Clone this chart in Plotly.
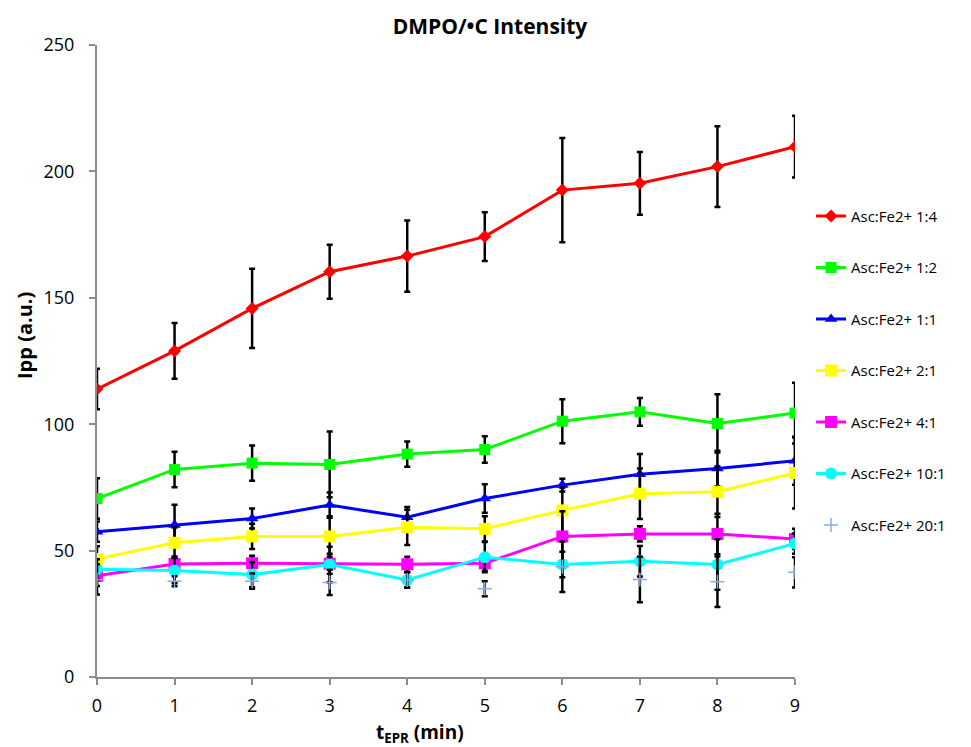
import plotly.graph_objects as go

t_min = [0, 1, 2, 3, 4, 5, 6, 7, 8, 9]

names = ["Asc:Fe2+ 1:4", "Asc:Fe2+ 1:2", "Asc:Fe2+ 1:1", "Asc:Fe2+ 2:1",
         "Asc:Fe2+ 4:1", "Asc:Fe2+ 10:1", "Asc:Fe2+ 20:1"]

r_1_4 = [113.9, 129.0, 145.8, 160.3, 166.5, 174.2, 192.6, 195.3, 201.9, 209.8]
e_1_4 = [8.0, 11.0, 15.7, 10.7, 14.1, 9.6, 20.6, 12.4, 16.0, 12.2]

r_1_2 = [70.6, 82.1, 84.6, 84.1, 88.2, 90.0, 101.2, 104.9, 100.3, 104.4]
e_1_2 = [8.0, 7.0, 7.0, 13.0, 5.0, 5.2, 8.7, 5.5, 11.5, 12.0]

r_1_1 = [57.5, 60.1, 62.7, 68.0, 63.2, 70.6, 75.9, 80.2, 82.5, 85.5]
e_1_1 = [4.0, 8.0, 4.0, 5.0, 4.0, 5.6, 2.5, 8.0, 7.0, 9.5]

r_2_1 = [46.7, 53.1, 55.6, 55.6, 59.2, 58.6, 65.9, 72.5, 73.3, 80.7]
e_2_1 = [5.0, 6.0, 5.0, 8.0, 7.0, 5.0, 9.0, 10.0, 10.0, 14.0]

r_4_1 = [40.0, 44.7, 45.0, 44.8, 44.6, 45.0, 55.6, 56.6, 56.6, 54.6]
e_4_1 = [4.0, 3.0, 3.0, 4.0, 3.0, 3.0, 10.0, 3.0, 8.0, 4.0]

r_10_1 = [42.6, 42.1, 40.5, 44.5, 38.4, 47.4, 44.5, 45.8, 44.5, 52.8]
e_10_1 = [4.0, 5.0, 5.0, 7.0, 3.0, 6.0, 5.0, 6.0, 10.0, 4.0]

r_20_1 = [38.6, 37.9, 37.9, 37.4, 38.4, 34.9, 43.6, 38.6, 37.7, 41.4]
e_20_1 = [6.0, 2.0, 3.0, 5.0, 3.0, 3.0, 10.0, 9.0, 10.0, 6.0]

series = [r_1_4, r_1_2, r_1_1, r_2_1, r_4_1, r_10_1, r_20_1]
errors = [e_1_4, e_1_2, e_1_1, e_2_1, e_4_1, e_10_1, e_20_1]
colors = ["#ff0000", "#00ff00", "#0000ff", "#ffff00", "#ff00ff", "#00ffff", "#8eaadb"]
symbols = ["diamond", "square", "triangle-up", "square", "square", "circle", "cross-thin"]
sizes = [10, 11, 11, 12, 12, 12, 10]

fig = go.Figure()
for i, (nm, ys, es) in enumerate(zip(names, series, errors)):
    is_last = i == len(names) - 1
    fig.add_trace(go.Scatter(
        x=t_min, y=ys, name=nm, legendgroup=f"g{i}",
        mode="markers" if is_last else "lines+markers",
        line=dict(color=colors[i], width=3),
        marker=dict(symbol=symbols[i], size=sizes[i], color=colors[i],
                    line=dict(color=colors[i], width=1.5 if is_last else 0)),
        error_y=dict(type="data", array=es, visible=True, color="black",
                     thickness=2.5, width=3),
    ))

font_main = "Open Sans, Liberation Sans, sans-serif"
fig.update_layout(
    width=971, height=747,
    margin=dict(l=97, r=176, t=45, b=70),
    paper_bgcolor="white", plot_bgcolor="white",
    font=dict(family=font_main, size=15, color="black"),
    title=dict(text="<b>DMPO/•C Intensity</b>", x=490 / 971, xanchor="center",
               y=1 - 27 / 747, yanchor="middle", font=dict(size=21, family=font_main)),
    xaxis=dict(range=[0, 9], tickmode="array", tickvals=t_min,
               showline=True, linecolor="#8c8c8c", linewidth=2,
               ticks="outside", ticklen=6, tickcolor="#8c8c8c", tickwidth=2,
               showgrid=False, zeroline=False,
               tickfont=dict(size=18, family=font_main, color="black"),
               ticklabelstandoff=5),
    yaxis=dict(range=[0, 250], tickvals=[0, 50, 100, 150, 200, 250],
               showline=True, linecolor="#8c8c8c", linewidth=2,
               ticks="outside", ticklen=6, tickcolor="#8c8c8c", tickwidth=2,
               showgrid=False, zeroline=False,
               tickfont=dict(size=18, family=font_main, color="black"),
               ticklabelstandoff=11),
    legend=dict(x=1.023, y=0.755, xanchor="left", yanchor="top",
                font=dict(size=15), tracegroupgap=29, itemwidth=30,
                bgcolor="rgba(0,0,0,0)"),
    annotations=[
        dict(text="<b>t<sub>EPR</sub> (min)</b>", xref="paper", yref="paper",
             x=(420 - 97) / 698, y=-(733 - 677) / 632, xanchor="center",
             yanchor="middle", showarrow=False, font=dict(size=19)),
        dict(text="<b>Ipp (a.u.)</b>", xref="paper", yref="paper",
             x=-(97 - 24) / 698, y=(677 - 336) / 632, xanchor="center",
             yanchor="middle", textangle=-90, showarrow=False,
             font=dict(size=20)),
    ],
)

fig.write_html("out.html")
